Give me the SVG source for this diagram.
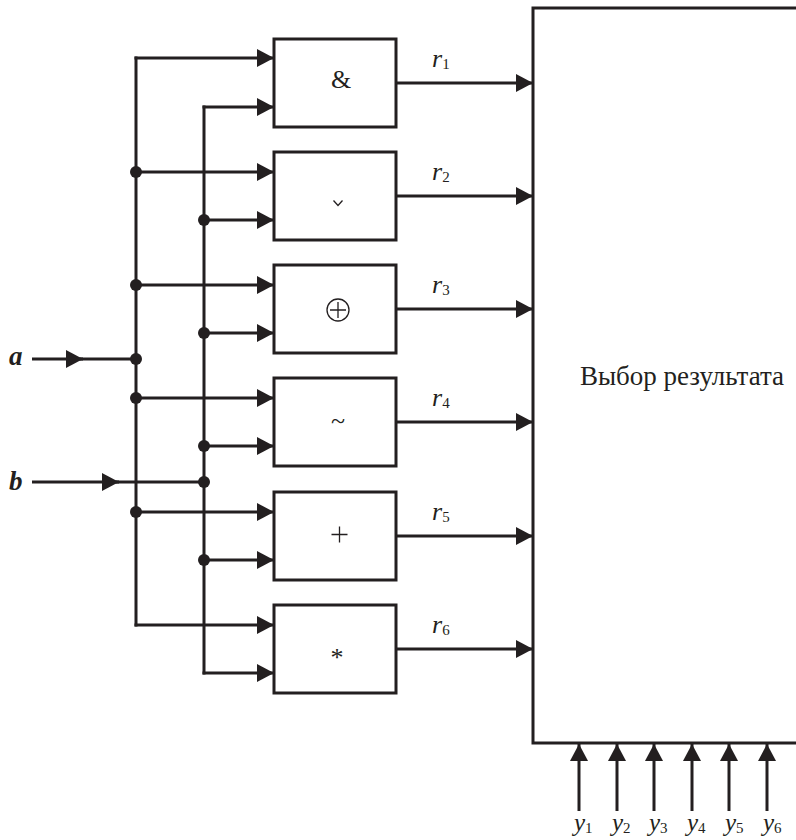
<svg xmlns="http://www.w3.org/2000/svg" width="796" height="840" viewBox="0 0 796 840">
<style>
.box{fill:#fff;stroke:#231f20;stroke-width:3}
.ln{fill:none;stroke:#231f20;stroke-width:3}
.thin{fill:none;stroke:#231f20;stroke-width:1.3}
.ar{fill:none;stroke:#231f20;stroke-width:3;marker-end:url(#ah)}
.dot{fill:#231f20}
.t{font-family:"Liberation Serif","Times New Roman",serif;fill:#231f20}
.it{font-style:italic}
.sub{font-size:15px;font-style:normal}
.sym{font-size:26px;text-anchor:middle}
.lbl{font-size:27px;font-weight:bold;font-style:italic}
</style>
<defs>
<marker id="ah" markerUnits="userSpaceOnUse" markerWidth="18" markerHeight="18" refX="17" refY="9" orient="auto">
<path d="M0,0 L17,9 L0,18 z" fill="#231f20"/>
</marker>
</defs>

<g id="result">
<rect class="box" x="533" y="8" width="300" height="735"/>
<text class="t" x="682" y="385" font-size="27" text-anchor="middle">Выбор результата</text>
</g>

<g id="and">
<rect class="box" x="274" y="39" width="122" height="88"/>
<text class="t sym" x="341" y="88">&amp;</text>
</g>
<g id="or">
<rect class="box" x="274" y="152" width="122" height="88"/>
<path class="thin" d="M333.5,200.5 L338,205.5 L342.5,200.5"/>
</g>
<g id="xor">
<rect class="box" x="274" y="265" width="122" height="88"/>
<circle class="thin" cx="338" cy="310" r="11"/>
<path class="thin" d="M330,310 H346 M338,302 V318"/>
</g>
<g id="eqv">
<rect class="box" x="274" y="378" width="122" height="88"/>
<text class="t sym" x="338" y="429">~</text>
</g>
<g id="plus">
<rect class="box" x="274" y="492" width="122" height="88"/>
<path class="thin" d="M331.5,534.5 H347.5 M339.5,526.5 V542.5"/>
</g>
<g id="mul">
<rect class="box" x="274" y="605" width="122" height="88"/>
<text class="t sym" x="337" y="666">*</text>
</g>

<g id="labels">
<text class="t lbl" x="9" y="365">a</text>
<text class="t lbl" x="9" y="490">b</text>
<text class="t it" font-size="26" x="432" y="67">r<tspan class="sub" dy="2">1</tspan></text>
<text class="t it" font-size="26" x="432" y="180">r<tspan class="sub" dy="2">2</tspan></text>
<text class="t it" font-size="26" x="432" y="293">r<tspan class="sub" dy="2">3</tspan></text>
<text class="t it" font-size="26" x="432" y="406">r<tspan class="sub" dy="2">4</tspan></text>
<text class="t it" font-size="26" x="432" y="520">r<tspan class="sub" dy="2">5</tspan></text>
<text class="t it" font-size="26" x="432" y="633">r<tspan class="sub" dy="2">6</tspan></text>
<text class="t it" font-size="25" x="574" y="831">y<tspan class="sub" dy="2">1</tspan></text>
<text class="t it" font-size="25" x="612" y="831">y<tspan class="sub" dy="2">2</tspan></text>
<text class="t it" font-size="25" x="649" y="831">y<tspan class="sub" dy="2">3</tspan></text>
<text class="t it" font-size="25" x="687" y="831">y<tspan class="sub" dy="2">4</tspan></text>
<text class="t it" font-size="25" x="725" y="831">y<tspan class="sub" dy="2">5</tspan></text>
<text class="t it" font-size="25" x="763" y="831">y<tspan class="sub" dy="2">6</tspan></text>
</g>

<g id="connectors">
<line class="ar" x1="32" y1="359" x2="83" y2="359"/>
<line class="ln" x1="80" y1="359" x2="136" y2="359"/>
<line class="ar" x1="32" y1="482" x2="119" y2="482"/>
<line class="ln" x1="116" y1="482" x2="204" y2="482"/>
<line class="ln" x1="136" y1="56.5" x2="136" y2="626.5"/>
<line class="ar" x1="134.5" y1="58" x2="274" y2="58"/>
<line class="ar" x1="136" y1="172" x2="274" y2="172"/>
<line class="ar" x1="136" y1="285" x2="274" y2="285"/>
<line class="ar" x1="136" y1="398" x2="274" y2="398"/>
<line class="ar" x1="136" y1="512" x2="274" y2="512"/>
<line class="ar" x1="134.5" y1="625" x2="274" y2="625"/>
<line class="ln" x1="204" y1="105.5" x2="204" y2="674.5"/>
<line class="ar" x1="202.5" y1="107" x2="274" y2="107"/>
<line class="ar" x1="204" y1="220" x2="274" y2="220"/>
<line class="ar" x1="204" y1="333" x2="274" y2="333"/>
<line class="ar" x1="204" y1="446" x2="274" y2="446"/>
<line class="ar" x1="204" y1="560" x2="274" y2="560"/>
<line class="ar" x1="202.5" y1="673" x2="274" y2="673"/>
<line class="ar" x1="396" y1="83" x2="533" y2="83"/>
<line class="ar" x1="396" y1="196" x2="533" y2="196"/>
<line class="ar" x1="396" y1="309" x2="533" y2="309"/>
<line class="ar" x1="396" y1="422" x2="533" y2="422"/>
<line class="ar" x1="396" y1="536" x2="533" y2="536"/>
<line class="ar" x1="396" y1="649" x2="533" y2="649"/>
<line class="ar" x1="579" y1="811" x2="579" y2="744"/>
<line class="ar" x1="617" y1="811" x2="617" y2="744"/>
<line class="ar" x1="654" y1="811" x2="654" y2="744"/>
<line class="ar" x1="692" y1="811" x2="692" y2="744"/>
<line class="ar" x1="729" y1="811" x2="729" y2="744"/>
<line class="ar" x1="767" y1="811" x2="767" y2="744"/>
<circle class="dot" cx="136" cy="359" r="6"/>
<circle class="dot" cx="136" cy="172" r="6"/>
<circle class="dot" cx="136" cy="285" r="6"/>
<circle class="dot" cx="136" cy="398" r="6"/>
<circle class="dot" cx="136" cy="512" r="6"/>
<circle class="dot" cx="204" cy="482" r="6"/>
<circle class="dot" cx="204" cy="220" r="6"/>
<circle class="dot" cx="204" cy="333" r="6"/>
<circle class="dot" cx="204" cy="446" r="6"/>
<circle class="dot" cx="204" cy="560" r="6"/>
</g>
</svg>
